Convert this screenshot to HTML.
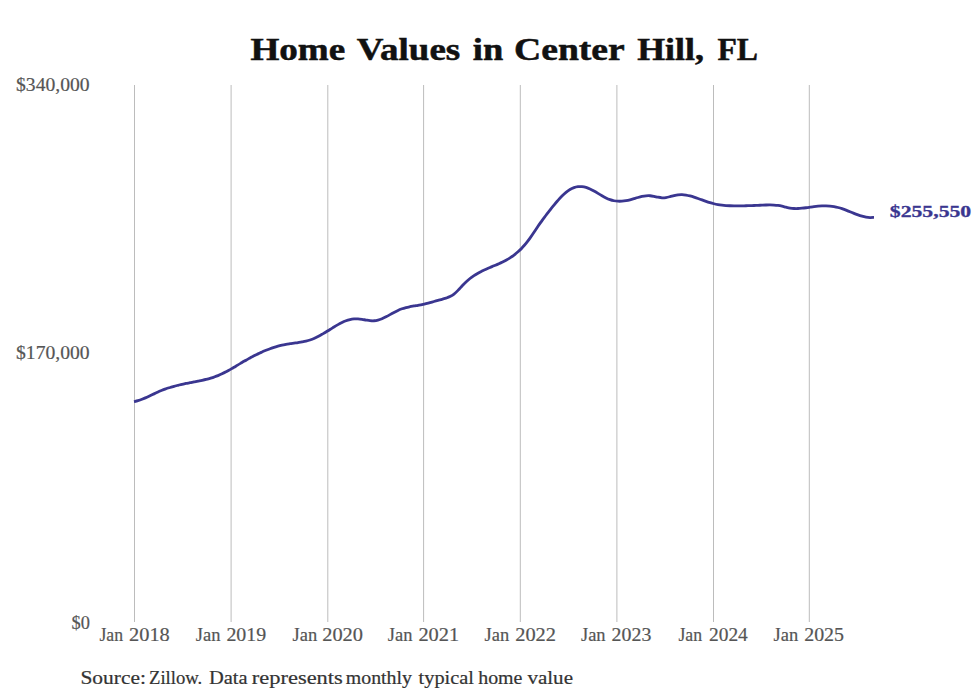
<!DOCTYPE html>
<html><head><meta charset="utf-8"><style>
html,body{margin:0;padding:0;background:#fff;width:980px;height:699px;overflow:hidden}
svg{display:block}
text{font-family:"Liberation Serif",serif}
</style></head><body>
<svg width="980" height="699" viewBox="0 0 980 699">
<rect width="980" height="699" fill="#fff"/>
<line x1="134.5" y1="85" x2="134.5" y2="622" stroke="#bcbcbc" stroke-width="1"/>
<line x1="231.1" y1="85" x2="231.1" y2="622" stroke="#bcbcbc" stroke-width="1"/>
<line x1="327.8" y1="85" x2="327.8" y2="622" stroke="#bcbcbc" stroke-width="1"/>
<line x1="423.6" y1="85" x2="423.6" y2="622" stroke="#bcbcbc" stroke-width="1"/>
<line x1="520.3" y1="85" x2="520.3" y2="622" stroke="#bcbcbc" stroke-width="1"/>
<line x1="616.9" y1="85" x2="616.9" y2="622" stroke="#bcbcbc" stroke-width="1"/>
<line x1="713.5" y1="85" x2="713.5" y2="622" stroke="#bcbcbc" stroke-width="1"/>
<line x1="809.3" y1="85" x2="809.3" y2="622" stroke="#bcbcbc" stroke-width="1"/>
<path d="M134.0,401.64 C134.7,401.48 136.7,401.06 138.0,400.67 C139.3,400.28 140.7,399.81 142.0,399.30 C143.3,398.79 144.7,398.22 146.0,397.63 C147.3,397.04 148.7,396.41 150.0,395.78 C151.3,395.15 152.7,394.50 154.0,393.87 C155.3,393.24 156.7,392.60 158.0,392.01 C159.3,391.42 160.7,390.85 162.0,390.31 C163.3,389.77 164.7,389.27 166.0,388.80 C167.3,388.33 168.7,387.90 170.0,387.48 C171.3,387.06 172.7,386.68 174.0,386.31 C175.3,385.94 176.7,385.60 178.0,385.27 C179.3,384.94 180.7,384.64 182.0,384.34 C183.3,384.04 184.7,383.76 186.0,383.49 C187.3,383.22 188.7,382.96 190.0,382.70 C191.3,382.44 192.7,382.20 194.0,381.94 C195.3,381.68 196.7,381.43 198.0,381.16 C199.3,380.89 200.7,380.62 202.0,380.33 C203.3,380.04 204.7,379.73 206.0,379.40 C207.3,379.07 208.7,378.72 210.0,378.33 C211.3,377.94 212.7,377.54 214.0,377.08 C215.3,376.62 216.7,376.13 218.0,375.59 C219.3,375.05 220.7,374.46 222.0,373.83 C223.3,373.20 224.7,372.52 226.0,371.82 C227.3,371.12 228.7,370.37 230.0,369.61 C231.3,368.85 232.7,368.06 234.0,367.27 C235.3,366.48 236.7,365.68 238.0,364.88 C239.3,364.08 240.7,363.27 242.0,362.49 C243.3,361.71 244.7,360.93 246.0,360.17 C247.3,359.41 248.7,358.67 250.0,357.95 C251.3,357.23 252.7,356.53 254.0,355.85 C255.3,355.17 256.7,354.51 258.0,353.87 C259.3,353.23 260.7,352.61 262.0,352.02 C263.3,351.43 264.7,350.86 266.0,350.32 C267.3,349.78 268.7,349.26 270.0,348.77 C271.3,348.28 272.7,347.81 274.0,347.38 C275.3,346.95 276.7,346.54 278.0,346.17 C279.3,345.80 280.7,345.45 282.0,345.14 C283.3,344.83 284.7,344.56 286.0,344.31 C287.3,344.06 288.7,343.86 290.0,343.66 C291.3,343.46 292.7,343.30 294.0,343.12 C295.3,342.94 296.7,342.78 298.0,342.58 C299.3,342.38 300.7,342.19 302.0,341.94 C303.3,341.69 304.7,341.43 306.0,341.10 C307.3,340.77 308.7,340.40 310.0,339.95 C311.3,339.50 312.7,338.99 314.0,338.41 C315.3,337.84 316.7,337.18 318.0,336.50 C319.3,335.82 320.7,335.09 322.0,334.33 C323.3,333.57 324.7,332.77 326.0,331.96 C327.3,331.15 328.7,330.31 330.0,329.48 C331.3,328.65 332.7,327.80 334.0,326.99 C335.3,326.18 336.7,325.36 338.0,324.61 C339.3,323.86 340.7,323.12 342.0,322.48 C343.3,321.84 344.7,321.24 346.0,320.75 C347.3,320.26 348.7,319.85 350.0,319.55 C351.3,319.25 352.7,319.07 354.0,318.97 C355.3,318.87 356.7,318.88 358.0,318.94 C359.3,319.00 360.7,319.17 362.0,319.35 C363.3,319.53 364.7,319.82 366.0,320.03 C367.3,320.24 368.7,320.51 370.0,320.63 C371.3,320.75 372.7,320.85 374.0,320.77 C375.3,320.69 376.7,320.46 378.0,320.12 C379.3,319.78 380.7,319.26 382.0,318.71 C383.3,318.16 384.7,317.48 386.0,316.80 C387.3,316.12 388.7,315.35 390.0,314.62 C391.3,313.89 392.7,313.12 394.0,312.42 C395.3,311.72 396.7,311.01 398.0,310.40 C399.3,309.79 400.7,309.25 402.0,308.78 C403.3,308.31 404.7,307.93 406.0,307.58 C407.3,307.23 408.7,306.95 410.0,306.68 C411.3,306.41 412.7,306.20 414.0,305.97 C415.3,305.74 416.7,305.55 418.0,305.32 C419.3,305.09 420.7,304.87 422.0,304.60 C423.3,304.33 424.7,304.03 426.0,303.70 C427.3,303.37 428.7,303.01 430.0,302.64 C431.3,302.27 432.7,301.88 434.0,301.50 C435.3,301.12 436.7,300.73 438.0,300.36 C439.3,300.00 440.7,299.68 442.0,299.31 C443.3,298.94 444.7,298.63 446.0,298.17 C447.3,297.71 448.7,297.25 450.0,296.56 C451.3,295.87 452.7,295.08 454.0,294.05 C455.3,293.02 456.7,291.70 458.0,290.36 C459.3,289.02 460.7,287.43 462.0,286.03 C463.3,284.63 464.7,283.21 466.0,281.96 C467.3,280.71 468.7,279.57 470.0,278.52 C471.3,277.46 472.7,276.52 474.0,275.63 C475.3,274.74 476.7,273.94 478.0,273.18 C479.3,272.42 480.7,271.74 482.0,271.08 C483.3,270.42 484.7,269.82 486.0,269.22 C487.3,268.62 488.7,268.06 490.0,267.50 C491.3,266.94 492.7,266.39 494.0,265.83 C495.3,265.27 496.7,264.71 498.0,264.12 C499.3,263.53 500.7,262.92 502.0,262.27 C503.3,261.62 504.7,260.94 506.0,260.20 C507.3,259.46 508.7,258.68 510.0,257.82 C511.3,256.96 512.7,256.05 514.0,255.04 C515.3,254.03 516.7,252.96 518.0,251.77 C519.3,250.59 520.7,249.32 522.0,247.93 C523.3,246.54 524.7,245.05 526.0,243.42 C527.3,241.79 528.7,240.01 530.0,238.16 C531.3,236.31 532.7,234.29 534.0,232.32 C535.3,230.34 536.7,228.27 538.0,226.31 C539.3,224.35 540.7,222.43 542.0,220.58 C543.3,218.73 544.7,216.97 546.0,215.22 C547.3,213.47 548.7,211.77 550.0,210.08 C551.3,208.39 552.7,206.69 554.0,205.07 C555.3,203.44 556.7,201.84 558.0,200.33 C559.3,198.82 560.7,197.36 562.0,196.03 C563.3,194.70 564.7,193.45 566.0,192.37 C567.3,191.29 568.7,190.31 570.0,189.53 C571.3,188.75 572.7,188.13 574.0,187.66 C575.3,187.19 576.7,186.89 578.0,186.73 C579.3,186.57 580.7,186.57 582.0,186.69 C583.3,186.81 584.7,187.07 586.0,187.45 C587.3,187.83 588.7,188.36 590.0,188.95 C591.3,189.54 592.7,190.26 594.0,190.99 C595.3,191.72 596.7,192.55 598.0,193.34 C599.3,194.13 600.7,194.97 602.0,195.73 C603.3,196.49 604.7,197.27 606.0,197.92 C607.3,198.57 608.7,199.18 610.0,199.65 C611.3,200.12 612.7,200.49 614.0,200.75 C615.3,201.01 616.7,201.15 618.0,201.22 C619.3,201.29 620.7,201.26 622.0,201.17 C623.3,201.08 624.7,200.89 626.0,200.66 C627.3,200.43 628.7,200.12 630.0,199.79 C631.3,199.46 632.7,199.05 634.0,198.67 C635.3,198.28 636.7,197.85 638.0,197.48 C639.3,197.11 640.7,196.73 642.0,196.45 C643.3,196.17 644.7,195.92 646.0,195.80 C647.3,195.68 648.7,195.65 650.0,195.74 C651.3,195.83 652.7,196.11 654.0,196.36 C655.3,196.61 656.7,197.00 658.0,197.24 C659.3,197.48 660.7,197.73 662.0,197.78 C663.3,197.83 664.7,197.72 666.0,197.53 C667.3,197.34 668.7,196.98 670.0,196.66 C671.3,196.34 672.7,195.92 674.0,195.61 C675.3,195.30 676.7,194.96 678.0,194.78 C679.3,194.60 680.7,194.52 682.0,194.56 C683.3,194.60 684.7,194.78 686.0,195.01 C687.3,195.24 688.7,195.59 690.0,195.94 C691.3,196.29 692.7,196.70 694.0,197.13 C695.3,197.56 696.7,198.03 698.0,198.49 C699.3,198.96 700.7,199.45 702.0,199.92 C703.3,200.39 704.7,200.88 706.0,201.33 C707.3,201.78 708.7,202.24 710.0,202.64 C711.3,203.04 712.7,203.42 714.0,203.74 C715.3,204.06 716.7,204.34 718.0,204.58 C719.3,204.82 720.7,205.01 722.0,205.17 C723.3,205.33 724.7,205.46 726.0,205.56 C727.3,205.66 728.7,205.72 730.0,205.77 C731.3,205.82 732.7,205.85 734.0,205.86 C735.3,205.88 736.7,205.87 738.0,205.86 C739.3,205.85 740.7,205.83 742.0,205.81 C743.3,205.79 744.7,205.77 746.0,205.74 C747.3,205.71 748.7,205.67 750.0,205.63 C751.3,205.59 752.7,205.55 754.0,205.50 C755.3,205.45 756.7,205.40 758.0,205.34 C759.3,205.28 760.7,205.22 762.0,205.16 C763.3,205.10 764.7,205.03 766.0,204.99 C767.3,204.95 768.7,204.92 770.0,204.93 C771.3,204.94 772.7,204.96 774.0,205.05 C775.3,205.14 776.7,205.27 778.0,205.46 C779.3,205.66 780.7,205.93 782.0,206.22 C783.3,206.51 784.7,206.89 786.0,207.20 C787.3,207.50 788.7,207.84 790.0,208.05 C791.3,208.26 792.7,208.40 794.0,208.48 C795.3,208.56 796.7,208.55 798.0,208.51 C799.3,208.47 800.7,208.35 802.0,208.23 C803.3,208.10 804.7,207.93 806.0,207.76 C807.3,207.59 808.7,207.38 810.0,207.19 C811.3,207.00 812.7,206.79 814.0,206.62 C815.3,206.45 816.7,206.28 818.0,206.15 C819.3,206.03 820.7,205.92 822.0,205.87 C823.3,205.82 824.7,205.80 826.0,205.84 C827.3,205.88 828.7,205.96 830.0,206.09 C831.3,206.22 832.7,206.41 834.0,206.64 C835.3,206.87 836.7,207.15 838.0,207.49 C839.3,207.83 840.7,208.23 842.0,208.67 C843.3,209.11 844.7,209.61 846.0,210.12 C847.3,210.63 848.7,211.18 850.0,211.72 C851.3,212.26 852.7,212.82 854.0,213.35 C855.3,213.88 856.7,214.40 858.0,214.87 C859.3,215.34 860.7,215.79 862.0,216.16 C863.3,216.53 864.7,216.87 866.0,217.10 C867.3,217.33 868.7,217.51 870.0,217.56 C871.3,217.61 873.3,217.43 874.0,217.40" fill="none" stroke="#3a3690" stroke-width="2.8" stroke-linejoin="round" stroke-linecap="butt"/>
<text x="250.40" y="60.30" font-size="31" font-weight="bold" fill="#111" stroke="#111" stroke-width="0.5" textLength="94.80" lengthAdjust="spacingAndGlyphs">Home</text>
<text x="356.80" y="60.30" font-size="31" font-weight="bold" fill="#111" stroke="#111" stroke-width="0.5" textLength="103.40" lengthAdjust="spacingAndGlyphs">Values</text>
<text x="472.80" y="60.30" font-size="31" font-weight="bold" fill="#111" stroke="#111" stroke-width="0.5" textLength="30.40" lengthAdjust="spacingAndGlyphs">in</text>
<text x="514.00" y="60.30" font-size="31" font-weight="bold" fill="#111" stroke="#111" stroke-width="0.5" textLength="110.80" lengthAdjust="spacingAndGlyphs">Center</text>
<text x="637.20" y="60.30" font-size="31" font-weight="bold" fill="#111" stroke="#111" stroke-width="0.5" textLength="66.80" lengthAdjust="spacingAndGlyphs">Hill,</text>
<text x="717.40" y="60.30" font-size="31" font-weight="bold" fill="#111" stroke="#111" stroke-width="0.5" textLength="40.60" lengthAdjust="spacingAndGlyphs">FL</text>
<text x="16.00" y="90.60" font-size="19" font-weight="normal" fill="#555555" stroke="#555555" stroke-width="0.2" textLength="73.60" lengthAdjust="spacingAndGlyphs">$340,000</text>
<text x="16.00" y="358.90" font-size="19" font-weight="normal" fill="#555555" stroke="#555555" stroke-width="0.2" textLength="73.60" lengthAdjust="spacingAndGlyphs">$170,000</text>
<text x="71.60" y="628.80" font-size="19" font-weight="normal" fill="#555555" stroke="#555555" stroke-width="0.2" textLength="18.40" lengthAdjust="spacingAndGlyphs">$0</text>
<text x="99.40" y="640.70" font-size="19" font-weight="normal" fill="#555555" stroke="#555555" stroke-width="0.2" textLength="23.60" lengthAdjust="spacingAndGlyphs">Jan</text>
<text x="129.00" y="640.70" font-size="19" font-weight="normal" fill="#555555" stroke="#555555" stroke-width="0.2" textLength="40.80" lengthAdjust="spacingAndGlyphs">2018</text>
<text x="195.80" y="640.70" font-size="19" font-weight="normal" fill="#555555" stroke="#555555" stroke-width="0.2" textLength="24.60" lengthAdjust="spacingAndGlyphs">Jan</text>
<text x="226.40" y="640.70" font-size="19" font-weight="normal" fill="#555555" stroke="#555555" stroke-width="0.2" textLength="39.80" lengthAdjust="spacingAndGlyphs">2019</text>
<text x="292.60" y="640.70" font-size="19" font-weight="normal" fill="#555555" stroke="#555555" stroke-width="0.2" textLength="24.60" lengthAdjust="spacingAndGlyphs">Jan</text>
<text x="322.20" y="640.70" font-size="19" font-weight="normal" fill="#555555" stroke="#555555" stroke-width="0.2" textLength="40.80" lengthAdjust="spacingAndGlyphs">2020</text>
<text x="387.80" y="640.70" font-size="19" font-weight="normal" fill="#555555" stroke="#555555" stroke-width="0.2" textLength="24.60" lengthAdjust="spacingAndGlyphs">Jan</text>
<text x="418.40" y="640.70" font-size="19" font-weight="normal" fill="#555555" stroke="#555555" stroke-width="0.2" textLength="40.80" lengthAdjust="spacingAndGlyphs">2021</text>
<text x="484.60" y="640.70" font-size="19" font-weight="normal" fill="#555555" stroke="#555555" stroke-width="0.2" textLength="24.60" lengthAdjust="spacingAndGlyphs">Jan</text>
<text x="515.20" y="640.70" font-size="19" font-weight="normal" fill="#555555" stroke="#555555" stroke-width="0.2" textLength="40.80" lengthAdjust="spacingAndGlyphs">2022</text>
<text x="581.00" y="640.70" font-size="19" font-weight="normal" fill="#555555" stroke="#555555" stroke-width="0.2" textLength="24.60" lengthAdjust="spacingAndGlyphs">Jan</text>
<text x="611.60" y="640.70" font-size="19" font-weight="normal" fill="#555555" stroke="#555555" stroke-width="0.2" textLength="39.80" lengthAdjust="spacingAndGlyphs">2023</text>
<text x="678.40" y="640.70" font-size="19" font-weight="normal" fill="#555555" stroke="#555555" stroke-width="0.2" textLength="23.60" lengthAdjust="spacingAndGlyphs">Jan</text>
<text x="709.00" y="640.70" font-size="19" font-weight="normal" fill="#555555" stroke="#555555" stroke-width="0.2" textLength="38.80" lengthAdjust="spacingAndGlyphs">2024</text>
<text x="773.60" y="640.70" font-size="19" font-weight="normal" fill="#555555" stroke="#555555" stroke-width="0.2" textLength="24.60" lengthAdjust="spacingAndGlyphs">Jan</text>
<text x="804.20" y="640.70" font-size="19" font-weight="normal" fill="#555555" stroke="#555555" stroke-width="0.2" textLength="39.80" lengthAdjust="spacingAndGlyphs">2025</text>
<text x="80.40" y="683.70" font-size="18" font-weight="normal" fill="#333" stroke="#333" stroke-width="0.2" textLength="65.60" lengthAdjust="spacingAndGlyphs">Source:</text>
<text x="149.00" y="683.70" font-size="18" font-weight="normal" fill="#333" stroke="#333" stroke-width="0.2" textLength="53.20" lengthAdjust="spacingAndGlyphs">Zillow.</text>
<text x="209.00" y="683.70" font-size="18" font-weight="normal" fill="#333" stroke="#333" stroke-width="0.2" textLength="38.60" lengthAdjust="spacingAndGlyphs">Data</text>
<text x="251.80" y="683.70" font-size="18" font-weight="normal" fill="#333" stroke="#333" stroke-width="0.2" textLength="91.00" lengthAdjust="spacingAndGlyphs">represents</text>
<text x="345.80" y="683.70" font-size="18" font-weight="normal" fill="#333" stroke="#333" stroke-width="0.2" textLength="66.20" lengthAdjust="spacingAndGlyphs">monthly</text>
<text x="418.60" y="683.70" font-size="18" font-weight="normal" fill="#333" stroke="#333" stroke-width="0.2" textLength="55.40" lengthAdjust="spacingAndGlyphs">typical</text>
<text x="478.20" y="683.70" font-size="18" font-weight="normal" fill="#333" stroke="#333" stroke-width="0.2" textLength="44.20" lengthAdjust="spacingAndGlyphs">home</text>
<text x="527.40" y="683.70" font-size="18" font-weight="normal" fill="#333" stroke="#333" stroke-width="0.2" textLength="45.60" lengthAdjust="spacingAndGlyphs">value</text>
<text x="889.80" y="216.60" font-size="17" font-weight="bold" fill="#3a3690" stroke="#3a3690" stroke-width="0.3" textLength="81.40" lengthAdjust="spacingAndGlyphs">$255,550</text>
</svg>
</body></html>
